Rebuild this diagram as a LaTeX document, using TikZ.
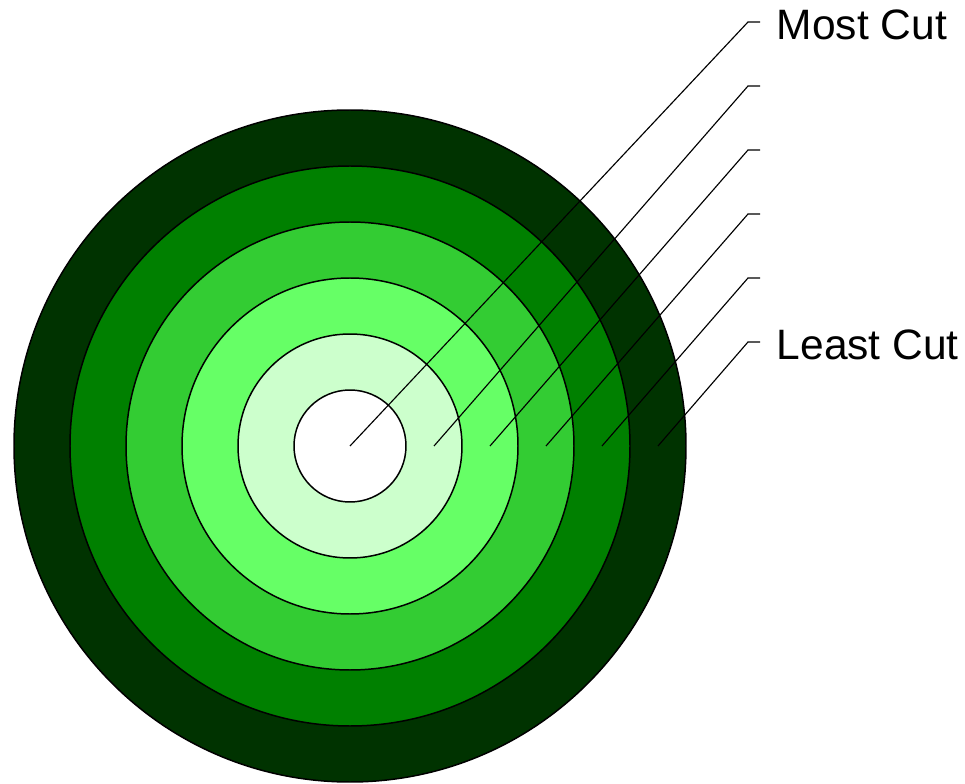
\documentclass[tikz,border=0pt]{standalone}
\usepackage{fontspec}
\setmainfont{Liberation Sans}
\usetikzlibrary{positioning, calc}
\definecolor{cring5}{HTML}{003300}
\definecolor{cring4}{HTML}{008000}
\definecolor{cring3}{HTML}{33CC33}
\definecolor{cring2}{HTML}{66FF66}
\definecolor{cring1}{HTML}{CCFFCC}
\definecolor{cring0}{HTML}{FFFFFF}
\tikzset{
  every picture/.style={line width=0.85pt},
  ring/.style={circle, draw=black, fill=#1, inner sep=0pt},
  leader/.style={draw=black, line width=0.65pt},
  cutlabel/.style={anchor=west, inner sep=0pt, yshift=-3*0.02cm, font=\fontsize{24.2pt}{27pt}\selectfont},
}

\begin{document}
\begin{tikzpicture}[x=0.02cm, y=-0.02cm]
  \useasboundingbox (0,0) rectangle (965,784);
  % rings, drawn from the outside in
  \foreach \i in {5,4,...,0} {
    \node[ring=cring\i, minimum size={(\i+1)*112*0.02cm}] (ring\i) at (350,446) {};
  }
  % leaders: one start per ring, ends stacked on the right
  \foreach \i/\x in {0/350, 1/434, 2/490, 3/546, 4/602, 5/658} {
    \coordinate (s\i) at (\x,446);
    \coordinate (b\i) at (748,{22+64*\i});
    \coordinate (e\i) at (760,{22+64*\i});
    \draw[leader] (s\i) -- (b\i) -- (e\i);
  }
  \node[cutlabel, right=16*0.02cm of e0] (most) {Most Cut};
  \node[cutlabel, right=16*0.02cm of e5] (least) {Least Cut};
\end{tikzpicture}
\end{document}
